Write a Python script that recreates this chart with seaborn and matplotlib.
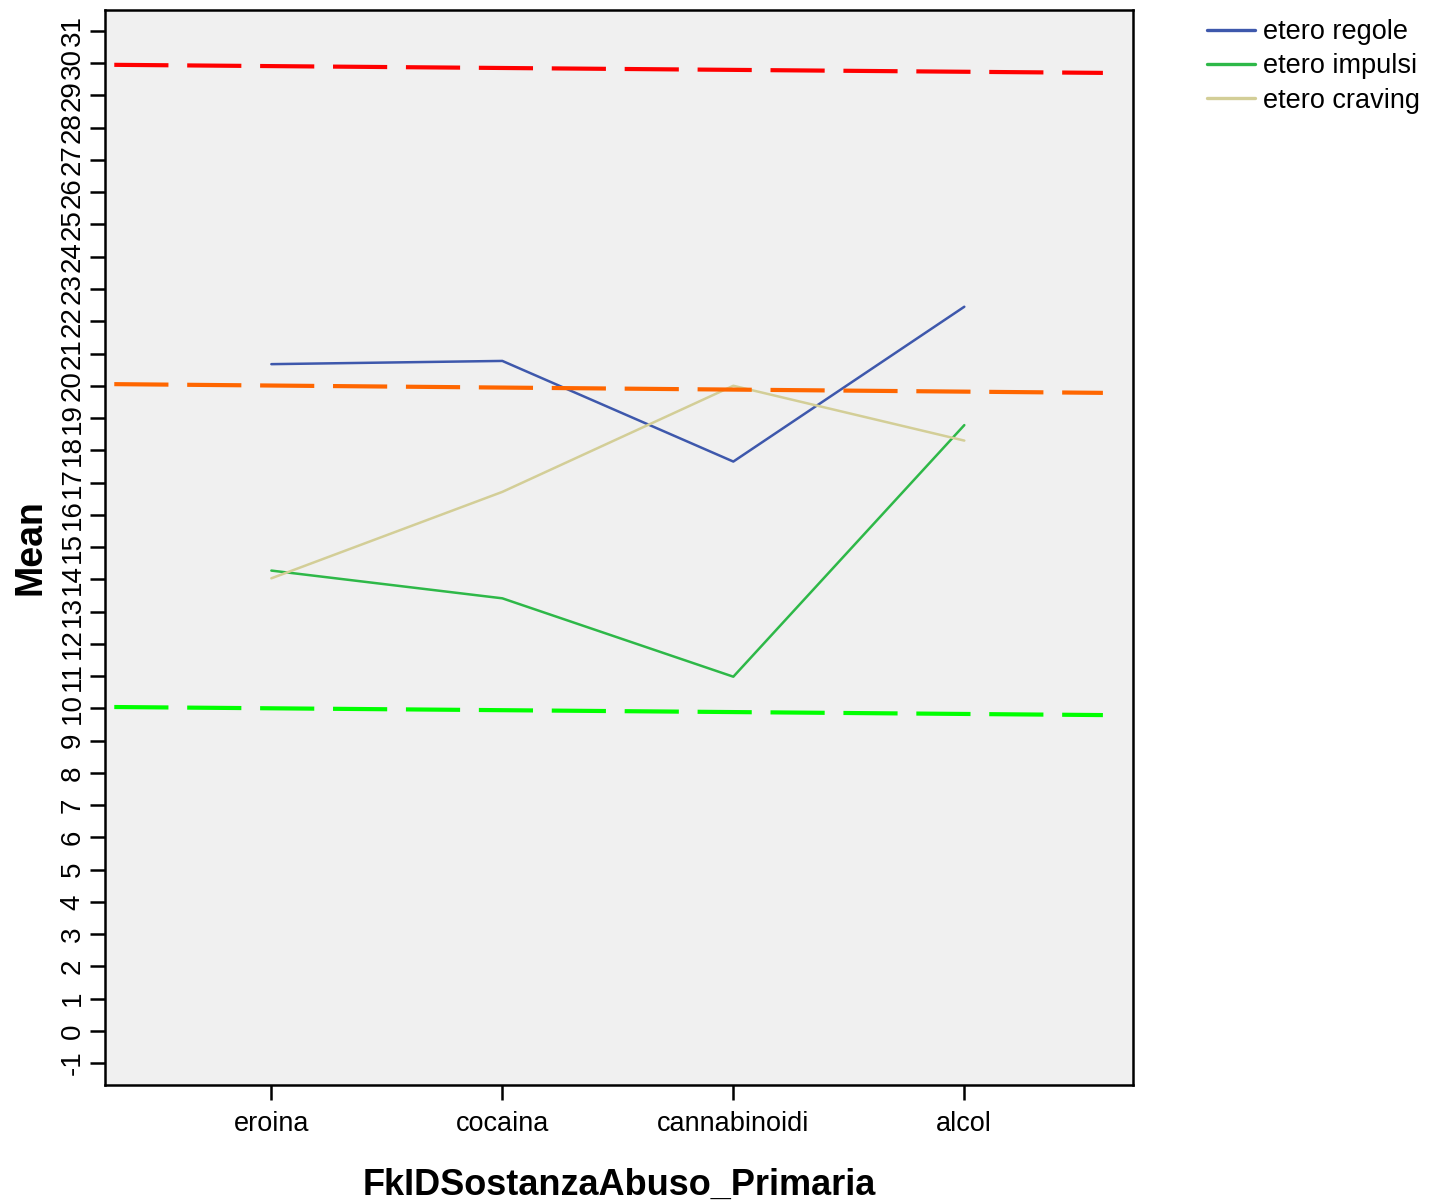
import numpy as np
import pandas as pd
import matplotlib
matplotlib.use("Agg")
import matplotlib.pyplot as plt
import seaborn as sns

# categories on x axis and the three series (means)
categories = ["eroina", "cocaina", "cannabinoidi", "alcol"]
etero_regole = [20.67, 20.77, 17.65, 22.45]
etero_impulsi = [14.27, 13.41, 10.98, 18.78]
etero_craving = [14.03, 16.71, 20.0, 18.30]

series_names = ["etero regole", "etero impulsi", "etero craving"]
series_colors = ["#3e58ac", "#2eb848", "#d3ce97"]

# hand-drawn dashed reference lines (value at left end, value at right end)
ref_left = [29.95, 20.05, 10.04]
ref_right = [29.70, 19.78, 9.79]
ref_x = [-0.68, 3.6]
ref_colors = ["#ff0000", "#ff6600", "#00ff00"]

yticks = list(range(-1, 32))

rows = []
for name, vals in zip(series_names, [etero_regole, etero_impulsi, etero_craving]):
    for i, v in enumerate(vals):
        rows.append({"pos": i, "Mean": v, "serie": name})
df = pd.DataFrame(rows)

sns.set_style("white")
plt.rcParams['font.family'] = ['Liberation Sans', 'DejaVu Sans']
plt.rcParams['text.color'] = 'black'
plt.rcParams['axes.labelcolor'] = 'black'
plt.rcParams['xtick.color'] = 'black'
plt.rcParams['ytick.color'] = 'black'

fig = plt.figure(figsize=(14.33, 12.04), dpi=100)
ax = fig.add_axes([0.0733, 0.0988, 0.7173, 0.8929])
ax.set_facecolor("#f0f0f0")

sns.lineplot(data=df, x="pos", y="Mean", hue="serie", hue_order=series_names,
             palette=series_colors, linewidth=1.8, ax=ax, legend=False)

for lo, hi, c in zip(ref_left, ref_right, ref_colors):
    ax.plot(ref_x, [lo, hi], color=c, linewidth=3, dashes=(13, 4.5))

ax.set_xlim(-0.72, 3.73)
ax.set_ylim(-1.68, 31.65)
ax.set_xticks(range(len(categories)))
ax.set_xticklabels(categories, fontsize=19.5)
ax.set_yticks(yticks)
ax.set_yticklabels([str(t) for t in yticks], rotation=90, va="center", fontsize=20)
ax.tick_params(axis="both", direction="out", length=11, width=1.8,
               left=True, bottom=True, pad=3)
ax.tick_params(axis="x", pad=8)

for s in ax.spines.values():
    s.set_color("black")
    s.set_linewidth(1.8)

ax.set_xlabel("FkIDSostanzaAbuso_Primaria", fontsize=26, fontweight="bold", labelpad=22)
ax.set_ylabel("Mean", fontsize=27, fontweight="bold", labelpad=8)

handles = [plt.Line2D([], [], color=c, linewidth=2.4) for c in series_colors]
fig.legend(handles, series_names, loc="upper left", bbox_to_anchor=(0.835, 0.993),
           frameon=False, fontsize=19.5, handlelength=1.75, handletextpad=0.3,
           labelspacing=0.3, borderaxespad=0)

fig.savefig("out.png", dpi=100)
